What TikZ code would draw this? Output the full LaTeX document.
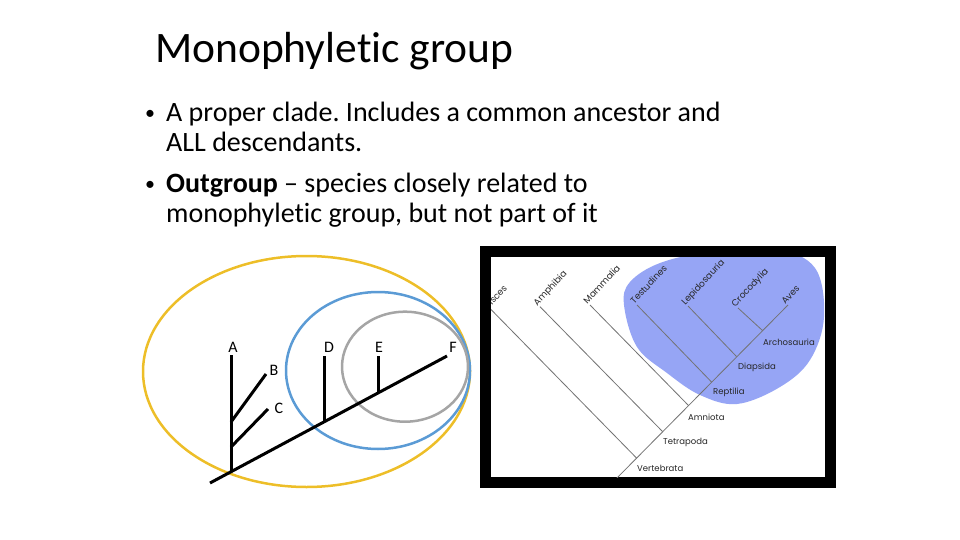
\documentclass[tikz,border=0pt]{standalone}
\usepackage{fontspec}
\setmainfont{Carlito}[Ligatures={NoCommon}]
\newfontfamily\cladefont{Poppins}
\usepackage{tikz}
\frenchspacing
\definecolor{outgold}{RGB}{237,190,40}
\definecolor{monoblue}{RGB}{91,155,213}
\definecolor{subgray}{RGB}{165,165,165}
\definecolor{blobblue}{RGB}{150,165,245}
\tikzstyle{bodytext}=[anchor=base west,inner sep=0pt,font=\fontsize{28}{30}\selectfont]
\tikzstyle{dot}=[anchor=base,inner sep=0pt,font=\fontsize{20}{24}\selectfont]
\tikzstyle{branch}=[line width=3pt,black]
\tikzstyle{leaf}=[anchor=base,inner sep=0pt,font=\fontsize{16}{19}\selectfont]
\tikzstyle{clade}=[black!55,line width=0.8pt]
\tikzstyle{taxon}=[anchor=base west,rotate=47,inner sep=0.5pt,text=black!85,font=\cladefont\fontsize{9}{10}\selectfont]
\tikzstyle{group}=[anchor=west,inner sep=0pt,text=black!85,font=\cladefont\fontsize{8.5}{10}\selectfont]

\begin{document}
\begin{tikzpicture}[x=1pt,y=-1pt]
  \useasboundingbox (0,0) rectangle (960,540);

  % title and bullets
  \node[anchor=base west,inner sep=0pt,font=\fontsize{43.5}{52}\selectfont] (title) at (155,63) {Monophyletic group};
  \node[bodytext] (l1) at (166,122) {A proper clade. Includes a common ancestor and};
  \node[bodytext] (l2) at (166,152) {ALL descendants.};
  \node[bodytext] (l3) at (166,192) {\textbf{Outgroup} -- species closely related to};
  \node[bodytext] (l4) at (166,222) {monophyletic group, but not part of it};
  \node[dot] (b1) at (150,120) {\textbullet};
  \node[dot] (b2) at (150,190) {\textbullet};

  % groups
  \draw[outgold,line width=2.5pt] (306.5,371.5) ellipse (163.5 and 115.5);
  \draw[monoblue,line width=2.5pt] (378,370.5) ellipse (92 and 78.5);
  \draw[subgray,line width=2.5pt] (405,366.7) ellipse (63 and 55);

  % simple tree
  \coordinate (base) at (210,483);
  \coordinate (r) at (231,471.8);
  \coordinate (nB) at (231,422);
  \coordinate (nC) at (231,447);
  \coordinate (nD) at (324,421.9);
  \coordinate (nE) at (378,393);
  \coordinate (tA) at (231,355);
  \coordinate (tB) at (266,374);
  \coordinate (tC) at (268,409);
  \coordinate (tD) at (324,356);
  \coordinate (tE) at (378,356);
  \coordinate (tF) at (447,356);
  \draw[branch] (base) -- (tF);
  \draw[branch] (r) -- (tA);
  \draw[branch] (nB) -- (tB);
  \draw[branch] (nC) -- (tC);
  \draw[branch] (nD) -- (tD);
  \draw[branch] (nE) -- (tE);
  \foreach \lbl/\pos in {A/{233,352},B/{274,375},C/{279,413},D/{329,352},E/{379,352},F/{453,352}}{
    \node[leaf] (leaf\lbl) at (\pos) {\lbl};
  }

  % vertebrate cladogram
  \fill[black] (480,246) rectangle (836,488);
  \begin{scope}
    \clip (491,257) rectangle (825,477);
    \fill[white] (491,257) rectangle (825,477);
    \fill[blobblue] plot[smooth cycle,tension=0.6] coordinates {(624,305) (637,347) (667,373) (700,395) (737,404) (780,387) (810,360) (824,317) (815,268) (775,249) (710,252) (660,263) (630,282)};

    \coordinate (stem) at (612,483);
    \coordinate (vert) at (636.5,458);
    \coordinate (tetra) at (662.5,431.5);
    \coordinate (amnio) at (688.5,405.5);
    \coordinate (rept) at (711.5,382);
    \coordinate (diap) at (736.5,356.5);
    \coordinate (archo) at (762.5,330.5);
    \coordinate (aves) at (788,305);
    \coordinate (pisces) at (491,309.5);
    \coordinate (amphibia) at (540,306.7);
    \coordinate (mammalia) at (590,305);
    \coordinate (testudines) at (637,305);
    \coordinate (lepidosauria) at (688,306);
    \coordinate (crocodylia) at (738,308);
    \draw[clade] (stem) -- (aves);
    \foreach \n/\tip in {vert/pisces,tetra/amphibia,amnio/mammalia,rept/testudines,diap/lepidosauria,archo/crocodylia}{
      \draw[clade] (\n) -- (\tip);
    }
    \foreach \tip/\lbl in {pisces/Pisces,amphibia/Amphibia,mammalia/Mammalia,testudines/Testudines,lepidosauria/Lepidosauria,crocodylia/Crocodylia,aves/Aves}{
      \node[taxon] (name\tip) at ([xshift=-3pt]\tip) {\lbl};
    }
    \foreach \n/\lbl/\pos in {archo/Archosauria/{763,342},diap/Diapsida/{738,367},rept/Reptilia/{713,392},amnio/Amniota/{688,417},tetra/Tetrapoda/{663,442},vert/Vertebrata/{637,468}}{
      \node[group] (name\n) at (\pos) {\lbl};
    }
  \end{scope}
\end{tikzpicture}
\end{document}
